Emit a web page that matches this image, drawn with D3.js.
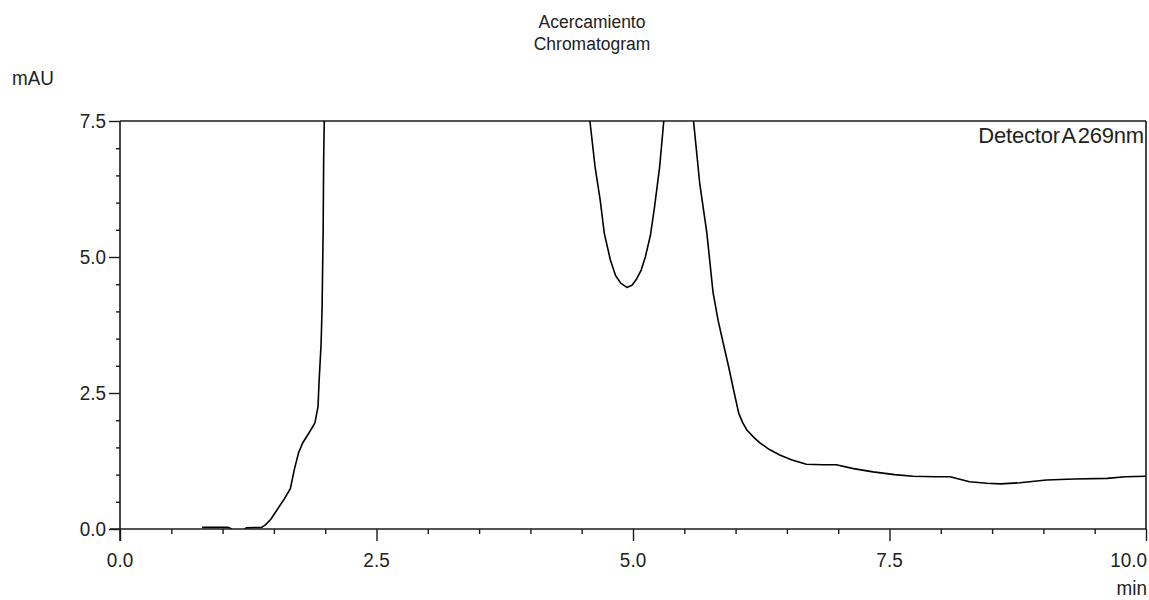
<!DOCTYPE html>
<html>
<head>
<meta charset="utf-8">
<script src="https://cdn.jsdelivr.net/npm/d3@7"></script>
<style>
  html, body { margin: 0; padding: 0; background: #fff; }
  svg { display: block; }
  text { font-family: "Liberation Sans", Arial, sans-serif; fill: #222; }
</style>
</head>
<body>
<svg id="chart" width="1149" height="600"></svg>
<script>
// Retention time (min) and detector response (mAU) of the trace
const timeMin = [
  0.80, 1.05, 1.08, 1.10, 1.20, 1.23, 1.38, 1.42, 1.47, 1.53,
  1.60, 1.66, 1.70, 1.74, 1.78, 1.84, 1.90, 1.93, 1.94, 1.96,
  1.97, 1.98, 1.985, 1.99, 2.00, 2.02, 4.55, 4.56, 4.58, 4.63,
  4.68, 4.72, 4.78, 4.83, 4.88, 4.94, 4.99, 5.03, 5.08, 5.12,
  5.17, 5.21, 5.26, 5.30, 5.31, 5.33, 5.56, 5.58, 5.59, 5.65,
  5.72, 5.78, 5.83, 5.88, 5.93, 5.98, 6.03, 6.07, 6.11, 6.18,
  6.24, 6.33, 6.43, 6.55, 6.69, 6.85, 6.98, 7.15, 7.34, 7.55,
  7.73, 7.95, 8.09, 8.28, 8.45, 8.58, 8.77, 9.03, 9.30, 9.62,
  9.80, 10.0
];
const absorbance = [
  0.03, 0.03, 0.01, -0.03, -0.03, 0.02, 0.03, 0.08, 0.18, 0.35,
  0.55, 0.74, 1.10, 1.40, 1.58, 1.76, 1.95, 2.25, 2.70, 3.40,
  4.10, 5.50, 6.80, 7.40, 8.00, 9.00, 9.00, 8.00, 7.50, 6.66,
  6.05, 5.44, 4.94, 4.66, 4.52, 4.44, 4.48, 4.58, 4.76, 5.00,
  5.40, 5.92, 6.66, 7.50, 8.00, 9.00, 9.00, 8.00, 7.50, 6.36,
  5.44, 4.35, 3.83, 3.41, 3.00, 2.56, 2.13, 1.95, 1.82, 1.68,
  1.58, 1.46, 1.36, 1.27, 1.19, 1.18, 1.18, 1.11, 1.05, 1.00,
  0.97, 0.96, 0.96, 0.87, 0.84, 0.83, 0.85, 0.90, 0.92, 0.93,
  0.96, 0.97
];

const xTicks = [0, 2.5, 5.0, 7.5, 10.0];
const yTicks = [0, 2.5, 5.0, 7.5];
const xTickLabels = ["0.0", "2.5", "5.0", "7.5", "10.0"];
const yTickLabels = ["0.0", "2.5", "5.0", "7.5"];
const xMinorStep = 0.5;
const yMinorStep = 0.5;

const titleLines = ["Acercamiento", "Chromatogram"];
const yUnit = "mAU";
const xUnit = "min";
const detectorLabel = "Detector A 269nm";

const svg = d3.select("#chart");
const margin = { left: 120, right: 3, top: 121, bottom: 71 };
const W = 1149, H = 600;
const x = d3.scaleLinear().domain([0, 10]).range([margin.left, W - margin.right]);
const y = d3.scaleLinear().domain([0, 7.5]).range([H - margin.bottom, margin.top]);

const ink = "#1a1a1a";
const fontSize = 21;

// condensed text helper: scales glyphs horizontally around the anchor point
function label(parent, str, px, py, anchor, sx, size) {
  return parent.append("text")
    .attr("transform", `translate(${px},${py}) scale(${sx},1)`)
    .attr("text-anchor", anchor)
    .style("font-size", (size || fontSize) + "px")
    .text(str);
}

// clip region for the trace
svg.append("defs").append("clipPath").attr("id", "plot-clip")
  .append("rect")
  .attr("x", x(0)).attr("y", y(7.5))
  .attr("width", x(10) - x(0)).attr("height", y(0) - y(7.5));

// minor ticks
const xMinor = d3.range(0, 10 + 1e-9, xMinorStep).filter(v => !xTicks.some(t => Math.abs(t - v) < 1e-9));
const yMinor = d3.range(0, 7.5 + 1e-9, yMinorStep).filter(v => !yTicks.some(t => Math.abs(t - v) < 1e-9));

const xAxisMinor = d3.axisBottom(x).tickValues(xMinor).tickSize(5).tickFormat("");
const yAxisMinor = d3.axisLeft(y).tickValues(yMinor).tickSize(4).tickFormat("");
const xAxis = d3.axisBottom(x).tickValues(xTicks).tickSize(12).tickFormat("");
const yAxis = d3.axisLeft(y).tickValues(yTicks).tickSize(11).tickFormat("");

function styleAxis(g) {
  g.selectAll("path.domain").attr("stroke", ink).attr("stroke-width", 1.6);
  g.selectAll(".tick line").attr("stroke", ink).attr("stroke-width", 1.4);
}

svg.append("g").attr("transform", `translate(0,${y(0)})`).call(xAxisMinor).call(styleAxis)
  .select("path.domain").remove();
svg.append("g").attr("transform", `translate(${x(0)},0)`).call(yAxisMinor).call(styleAxis)
  .select("path.domain").remove();

// frame: top and right edges
svg.append("line")
  .attr("x1", x(0)).attr("x2", x(10)).attr("y1", y(7.5)).attr("y2", y(7.5))
  .attr("stroke", ink).attr("stroke-width", 1.6);
svg.append("line")
  .attr("x1", x(10)).attr("x2", x(10)).attr("y1", y(7.5)).attr("y2", y(0))
  .attr("stroke", ink).attr("stroke-width", 1.6);

// trace
const pts = timeMin.map((t, i) => [t, absorbance[i]]);
svg.append("path")
  .datum(pts)
  .attr("clip-path", "url(#plot-clip)")
  .attr("fill", "none")
  .attr("stroke", "#000")
  .attr("stroke-width", 1.6)
  .attr("stroke-linejoin", "round")
  .attr("d", d3.line().x(d => x(d[0])).y(d => y(d[1])));

// major axes
svg.append("g").attr("transform", `translate(0,${y(0)})`).call(xAxis).call(styleAxis)
  .call(g => g.select("path.domain").attr("d", `M${x(0) - 10},0H${x(10)}`));
svg.append("g").attr("transform", `translate(${x(0)},0)`).call(yAxis).call(styleAxis)
  .call(g => g.select("path.domain").attr("d", `M0,${y(7.5)}V${y(0) + 12}`));

// tick labels
const labels = svg.append("g");
xTicks.forEach((v, i) => {
  const last = i === xTicks.length - 1;
  label(labels, xTickLabels[i], last ? x(v) + 1 : x(v), y(0) + 38, last ? "end" : "middle", 0.9);
});
yTicks.forEach((v, i) => {
  label(labels, yTickLabels[i], x(0) - 14, y(v) + 7, "end", 0.9);
});

// titles and units
label(svg, titleLines[0], 592, 28, "middle", 0.92, 19);
label(svg, titleLines[1], 592, 50, "middle", 0.92, 19);
label(svg, yUnit, 12, 85, "start", 0.9);
label(svg, xUnit, x(10) + 1, 595, "end", 0.9);
label(svg, detectorLabel, x(10) - 2, 143, "end", 1.0, 22)
  .style("letter-spacing", "-0.2px").style("word-spacing", "-3px");
</script>
</body>
</html>
